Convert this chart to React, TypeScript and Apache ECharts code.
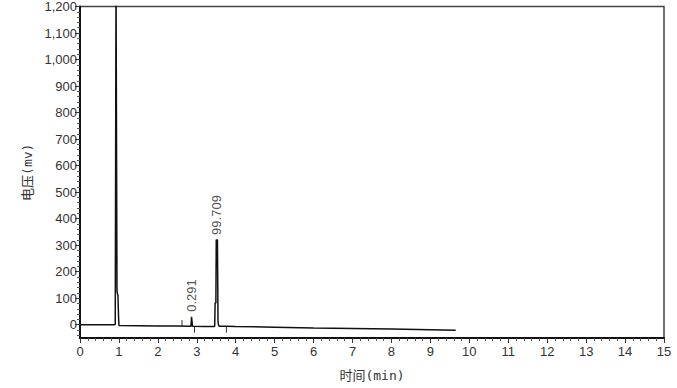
import React, { useEffect, useRef } from "react";
import * as echarts from "echarts";

// Chromatogram trace (time in min, signal in mV)
const traceTime = [
  0, 0.5, 0.88, 0.905, 0.915, 0.925, 0.94, 0.95, 0.96, 0.975, 0.99, 1.0,
  1.5, 2.0, 2.5, 2.85, 2.865, 2.875, 2.89, 3.2, 3.44, 3.46, 3.47, 3.49,
  3.5, 3.53, 3.545, 3.56, 3.58, 3.75, 4, 5, 6, 7, 8, 9, 9.65,
];
const traceVoltage = [
  0, 0, 0, 1, 600, 1300, 1300, 130, 118, 110, 30, -3,
  -4, -5, -5, -6, 30, 30, -6, -7, -7, -5, 82, 82,
  320, 320, 12, -2, -6, -6, -7, -9, -12, -14, -16, -19, -21,
];

// integration marker ticks
const markerTime = [2.62, 2.94, 3.76];
const markerFrom = [-5, -6, -6];
const markerTo = [18, -30, -30];

// peak area labels
const peakTime = [2.87, 3.515];
const peakHeight = [30, 320];
const peakLabel = ["0.291", "99.709"];

const xTickLabels = ["0", "1", "2", "3", "4", "5", "6", "7", "8", "9", "10", "11", "12", "13", "14", "15"];
const yTickValues = [0, 100, 200, 300, 400, 500, 600, 700, 800, 900, 1000, 1100, 1200];
const yMin = -50;
const yMax = 1200;

const xName = "时间(min)";
const yName = "电压(mv)";

export default function App() {
  const ref = useRef<HTMLDivElement>(null);
  useEffect(() => {
    if (!ref.current) return;
    const chart = echarts.init(ref.current, null, { renderer: "svg" });
    const yMinor: number[] = [];
    for (let v = -40; v < yMax; v += 20) if (v % 100 !== 0) yMinor.push(v);

    const trace = traceTime.map((t, i) => [t, traceVoltage[i]]);
    const markerSeries = markerTime.map((t, i) => ({
      type: "line",
      data: [
        [t, markerFrom[i]],
        [t, markerTo[i]],
      ],
      symbol: "none",
      lineStyle: { color: "#333", width: 1 },
      silent: true,
      z: 3,
    }));

    const font = "'Liberation Sans', Arial, sans-serif";
    const nameFont = "'DejaVu Sans Mono', 'Noto Sans CJK SC', monospace";
    chart.setOption({
      animation: false,
      backgroundColor: "#fff",
      grid: {
        left: 80,
        right: 13,
        top: 6,
        bottom: 50,
        show: true,
        borderColor: "#444",
        borderWidth: 1.5,
        backgroundColor: "transparent",
      },
      xAxis: {
        type: "value",
        min: 0,
        max: 15,
        interval: 1,
        name: xName,
        nameLocation: "middle",
        nameGap: 31,
        nameTextStyle: { fontFamily: nameFont, fontSize: 13, color: "#333" },
        axisLine: { show: true, onZero: false, lineStyle: { color: "#111", width: 2 } },
        axisTick: { show: true, length: 5, lineStyle: { color: "#333" } },
        minorTick: { show: true, splitNumber: 5, length: 3, lineStyle: { color: "#555" } },
        axisLabel: {
          color: "#333",
          fontSize: 13,
          fontFamily: font,
          margin: 7,
          formatter: (v: number) => xTickLabels[Math.round(v)] ?? "",
        },
        splitLine: { show: false },
      },
      yAxis: [
        {
          type: "value",
          min: yMin,
          max: yMax,
          name: yName,
          nameLocation: "middle",
          nameRotate: 90,
          nameGap: 42,
          nameTextStyle: { fontFamily: nameFont, fontSize: 13, color: "#333" },
          axisLine: { show: true, onZero: false, lineStyle: { color: "#111", width: 2 } },
          axisTick: { show: true, length: 5, customValues: yTickValues, lineStyle: { color: "#333" } },
          axisLabel: {
            customValues: yTickValues,
            color: "#333",
            fontSize: 13,
            fontFamily: font,
            margin: 3,
            formatter: (v: number) => v.toLocaleString("en-US"),
          },
          splitLine: { show: false },
        },
        {
          type: "value",
          min: yMin,
          max: yMax,
          position: "left",
          axisLine: { show: false },
          axisTick: { show: true, length: 3, customValues: yMinor, lineStyle: { color: "#555" } },
          axisLabel: { show: false },
          splitLine: { show: false },
        },
      ],
      series: [
        {
          type: "line",
          data: trace,
          symbol: "none",
          lineStyle: { color: "#111", width: 1.5 },
          clip: true,
          z: 4,
        },
        ...markerSeries,
        {
          type: "scatter",
          data: peakTime.map((t, i) => [t, peakHeight[i]]),
          symbolSize: 0,
          silent: true,
          label: {
            show: true,
            position: "top",
            distance: 5,
            rotate: 90,
            align: "left",
            verticalAlign: "middle",
            fontSize: 13,
            fontFamily: font,
            color: "#222",
            formatter: (p: any) => peakLabel[p.dataIndex],
          },
        },
      ],
    });
    return () => chart.dispose();
  }, []);
  return (
    <div
      ref={ref}
      style={{ position: "fixed", left: 0, top: 0, width: 677, height: 388 }}
    />
  );
}
